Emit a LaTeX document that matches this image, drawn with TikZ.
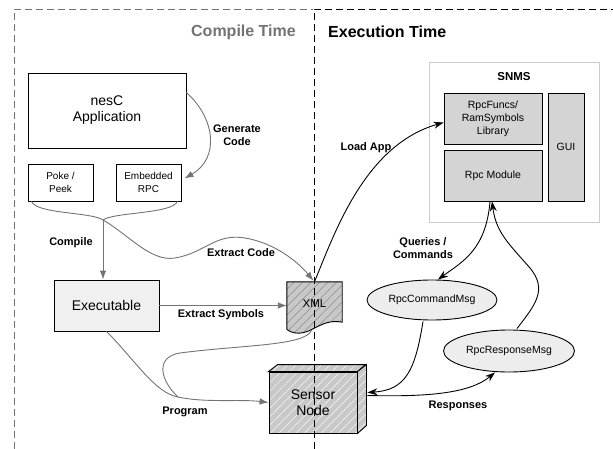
\documentclass[tikz,border=0pt]{standalone}
\usepackage{fontspec}
\setmainfont{Liberation Sans}
\usetikzlibrary{arrows.meta,patterns.meta,calc,shapes.geometric}
\definecolor{ln}{HTML}{737373}
\definecolor{hatchfill}{HTML}{C8C8C8}
\definecolor{modfill}{HTML}{D4D4D4}
\definecolor{ellfill}{HTML}{EDEDED}
\definecolor{exefill}{HTML}{F0F0F0}
\begin{document}
\begin{tikzpicture}[x=1pt,y=-1pt,
  box/.style={draw,line width=0.9pt,fill=white,align=center,inner sep=0pt,font=\fontsize{14}{16}\selectfont},
  smallbox/.style={box,font=\fontsize{10}{12.5}\selectfont},
  modbox/.style={draw,line width=0.9pt,fill=modfill,align=center,inner sep=0pt,font=\fontsize{10.5}{13}\selectfont},
  msg/.style={ellipse,draw,line width=0.9pt,fill=ellfill,inner sep=0pt,font=\fontsize{10.5}{13}\selectfont},
  lbl/.style={font=\fontsize{11}{13}\selectfont\bfseries,align=center,inner sep=0pt},
  garrow/.style={draw=ln,line width=0.9pt,-{Latex[length=9pt,width=6.5pt]},color=ln},
  gline/.style={draw=ln,line width=0.9pt},
  barrow/.style={draw=black,line width=0.9pt,-{Stealth[length=10pt,width=7pt]}},
  hatchdark/.style={preaction={fill=hatchfill},pattern={Lines[angle=45,distance=6pt,line width=0.5pt]},pattern color=black!45},
  hatchlight/.style={preaction={fill=hatchfill},pattern={Lines[angle=45,distance=6pt,line width=0.5pt]},pattern color=white!85!hatchfill},
  frameg/.style={draw=ln,line width=0.9pt,dash pattern=on 7pt off 4pt},
  frameb/.style={draw=black,line width=0.9pt,dash pattern=on 7pt off 4pt}
]
\useasboundingbox (0,0) rectangle (613,449);

% titles
\node[anchor=east,inner sep=0pt,text=ln,font=\fontsize{16}{18}\selectfont\bfseries] (ct) at (296,32) {Compile Time};
\node[anchor=west,inner sep=0pt,font=\fontsize{16}{18}\selectfont\bfseries] (et) at (328,32) {Execution Time};

% compile side nodes
\node[box,minimum width=158,minimum height=75] (app) at (107,110.5) {nesC\\Application};
\node[smallbox,minimum width=65,minimum height=37] (poke) at (60.5,182.5) {Poke /\\Peek};
\node[smallbox,minimum width=65,minimum height=37] (rpc) at (148.5,182.5) {Embedded\\RPC};
\node[box,fill=exefill,minimum width=105,minimum height=51] (exe) at (106.5,305.5) {Executable};

% XML document
\node[minimum width=55,minimum height=47,inner sep=0pt] (xml) at (314.5,305.5) {};
\fill[hatchdark] (xml.north west) -- (xml.north east) -- ($(xml.south east)+(0,-7)$)
  .. controls ($(xml.south east)+(-20,-11)$) and ($(xml.south west)+(26,4)$) .. ($(xml.south west)+(12,4)$)
  .. controls ($(xml.south west)+(6,4)$) and ($(xml.south west)+(2,2)$) .. ($(xml.south west)+(0,0)$) -- cycle;
\draw[line width=0.9pt] (xml.north west) -- (xml.north east) -- ($(xml.south east)+(0,-7)$)
  .. controls ($(xml.south east)+(-20,-11)$) and ($(xml.south west)+(26,4)$) .. ($(xml.south west)+(12,4)$)
  .. controls ($(xml.south west)+(6,4)$) and ($(xml.south west)+(2,2)$) .. ($(xml.south west)+(0,0)$) -- cycle;
\node[font=\fontsize{11.5}{13}\selectfont,inner sep=0pt] (xmltxt) at (314.5,304) {XML};

% Sensor node (3D box)
\node[draw,line width=0.9pt,hatchlight,minimum width=88,minimum height=61,inner sep=0pt,align=center,font=\fontsize{14}{16}\selectfont] (sensor) at (313,402.5) {Sensor\\Node};
\draw[line width=0.9pt,hatchlight] (sensor.north west) -- ++(9,-7) -- ++(88,0) -- (sensor.north east) -- cycle;
\draw[line width=0.9pt,hatchlight] (sensor.north east) -- ++(9,-7) -- ++(0,61) -- (sensor.south east) -- cycle;

% SNMS
\node[draw=black!20,line width=0.9pt,fill=white,minimum width=170,minimum height=160,inner sep=0pt] (snms) at (514,142) {};
\node[font=\fontsize{11.5}{13}\selectfont\bfseries,inner sep=0pt] (snmst) at (514,77) {SNMS};
\node[modbox,minimum width=98,minimum height=51] (lib) at (493,118.5) {RpcFuncs/\\RamSymbols\\Library};
\node[modbox,minimum width=98,minimum height=51] (mod) at (493,175.5) {Rpc Module};
\node[modbox,minimum width=36,minimum height=108] (gui) at (566,147) {GUI};

% messages
\node[msg,minimum width=130,minimum height=40] (cmd) at (432,300) {RpcCommandMsg};
\node[msg,minimum width=131,minimum height=42] (resp) at (509,351) {RpcResponseMsg};

% compile-time connectors
\coordinate (m) at (103,220);
\coordinate (j) at (178,397);
\draw[garrow] ($(app.north east)+(0,20)$) .. controls (215,118) and (220,158) .. ($(rpc.east)+(3,-4)$);
\draw[gline] ($(poke.south west)+(4,0)$) .. controls (36,214) and (92,212) .. (m);
\draw[gline] ($(rpc.south east)+(-4,0)$) .. controls (172,214) and (114,212) .. (m);
\draw[garrow] (m) -- (m |- exe.north);
\draw[garrow] (m) .. controls (128,234) and (150,262) .. (175,258)
  .. controls (205,253) and (215,233) .. (245,238)
  .. controls (275,243) and (298,262) .. ($(xml.north)+(-1,-1)$);
\draw[garrow] (exe.east) -- (xml.west);
\draw[gline] ($(xml.south)+(-3,1)$) .. controls (306,346) and (240,345) .. (180,353)
  .. controls (155,357) and (160,380) .. (j);
\draw[garrow] (exe.south) .. controls (135,360) and (155,393) .. (j)
  .. controls (205,403) and (240,399) .. (sensor.west);

% execution-time connectors
\draw[barrow] (xml.north) .. controls (335,232) and (365,145) .. ($(lib.west)+(0,4)$);
\draw[barrow] ($(mod.south)+(-3,0)$) .. controls (486,250) and (462,262) .. ($(cmd.north)+(6,0)$);
\draw[barrow] ($(resp.north)+(8,-1)$) .. controls (535,305) and (548,290) .. (530,268)
  .. controls (508,243) and (496,232) .. ($(mod.south)+(-1,0)$);
\draw[barrow] ($(cmd.south)+(-9,1)$) .. controls (415,372) and (405,390) .. ($(sensor.east)+(10,-10)$);
\draw[barrow] ($(sensor.east)+(10,-7)$) .. controls (430,397) and (470,393) .. ($(resp.south)+(-14,0)$);

% labels
\node[lbl] (lgen) at (237,135) {Generate\\Code};
\node[lbl] (lcomp) at (71,243) {Compile};
\node[lbl] (lcode) at (241,253) {Extract Code};
\node[lbl] (lsym) at (221,315) {Extract Symbols};
\node[lbl] (lprog) at (185,412) {Program};
\node[lbl] (lload) at (366,148) {Load App};
\node[lbl] (lq) at (423,248.5) {Queries /\\Commands};
\node[lbl] (lresp) at (458,406) {Responses};

% frames
\draw[frameg] (14,449) -- (14,9) -- (313,9);
\draw[frameb] (314,449) -- (314,9) -- (613,9);
\end{tikzpicture}
\end{document}
